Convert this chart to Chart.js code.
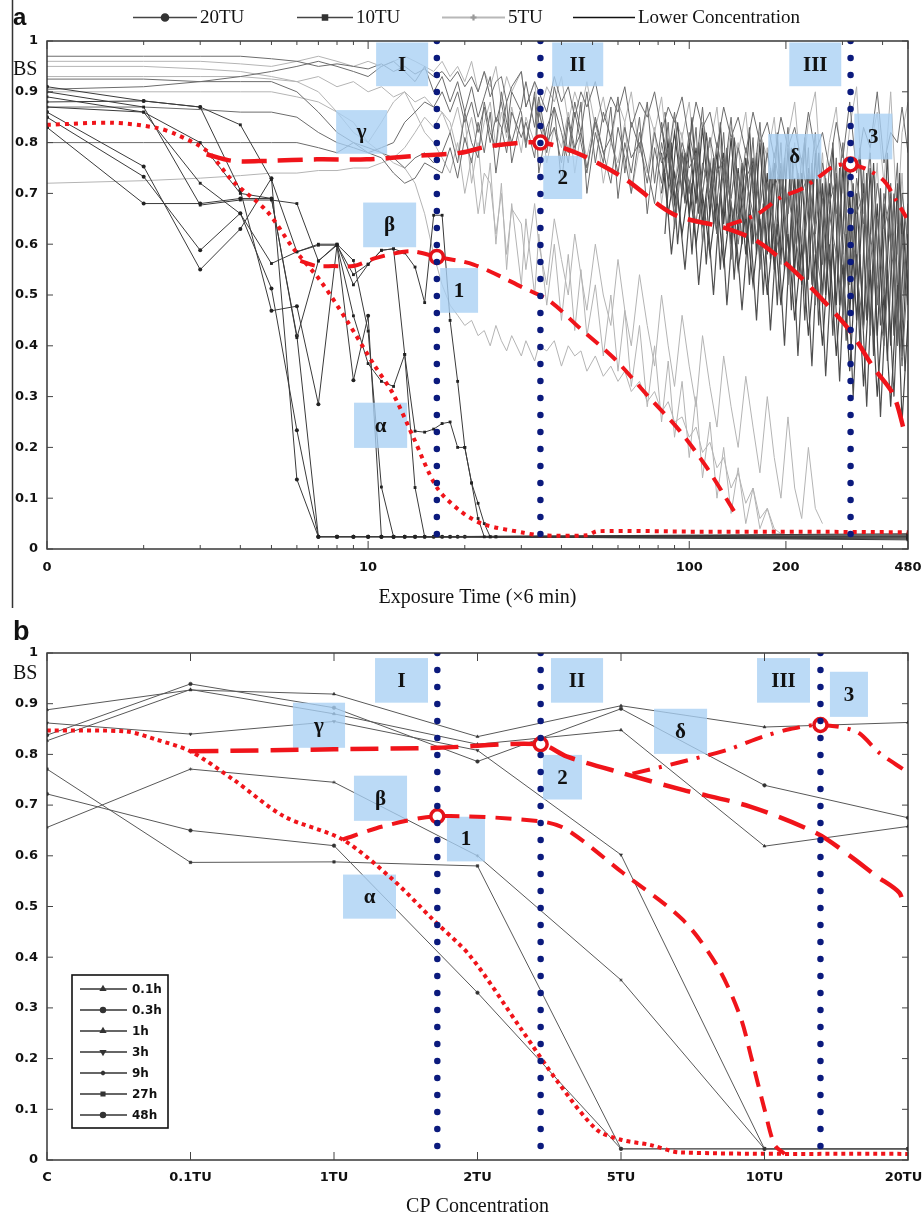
<!DOCTYPE html>
<html>
<head>
<meta charset="utf-8">
<script src="https://cdn.jsdelivr.net/npm/chart.js@4.4.0/dist/chart.umd.min.js"></script>
<style>
  body { margin: 0; background: #fff; }
  canvas { display: block; }
</style>
</head>
<body>
<canvas id="ca" width="924" height="608"></canvas>
<canvas id="cb" width="924" height="612"></canvas>
<script>
// ---------- panel a : BS vs exposure time (x6 min), log axis ----------
const timeTicks = [1, 2, 3, 4, 5, 6, 7, 8, 9, 10, 20, 30, 40, 50, 60, 70, 80, 90, 100, 200, 300, 400, 480];
const timeLabels = { 1: '0', 10: '10', 100: '100', 200: '200', 480: '480' };
const groupNames = ['20TU', '10TU', '5TU', 'Lower Concentration'];

// sampled at time 1, 2, 3 ...
const conc20 = [
  [0.83, 0.68, 0.68, 0.69, 0.69, 0.42, 0.024, 0.024, 0.024, 0.024, 0.024, 0.024, 0.024, 0.024, 0.024, 0.024, 0.024, 0.024, 0.024, 0.024],
  [0.86, 0.753, 0.55, 0.63, 0.73, 0.137, 0.024, 0.024, 0.024, 0.024, 0.024, 0.024],
  [0.85, 0.733, 0.588, 0.661, 0.513, 0.234, 0.024, 0.024, 0.024, 0.024],
  [0.91, 0.882, 0.87, 0.706, 0.469, 0.478, 0.285, 0.598, 0.332, 0.459, 0.024, 0.024, 0.024, 0.024]
];
const conc10 = [
  [0.88, 0.882, 0.87, 0.835, 0.727, 0.585, 0.598, 0.598, 0.54, 0.561, 0.588, 0.591, 0.583, 0.555, 0.485, 0.657, 0.657, 0.45, 0.33, 0.2, 0.13, 0.06, 0.024, 0.024, 0.024],
  [0.9, 0.87, 0.677, 0.687, 0.687, 0.68, 0.567, 0.598, 0.459, 0.365, 0.33, 0.32, 0.383, 0.232, 0.23, 0.236, 0.247, 0.25, 0.2, 0.2, 0.13, 0.09, 0.05, 0.024, 0.024],
  [0.87, 0.86, 0.72, 0.66, 0.562, 0.585, 0.6, 0.6, 0.568, 0.429, 0.122, 0.024, 0.024, 0.024, 0.024],
  [0.89, 0.86, 0.8, 0.7, 0.69, 0.416, 0.567, 0.6, 0.52, 0.56, 0.588, 0.591, 0.383, 0.121, 0.024, 0.024, 0.024, 0.024]
];
// value each curve keeps until t = 480
const tail20 = [0.024, 0.02, 0.028, 0.022];
const tail10 = [0.026, 0.018, 0.03, 0.024];

// time grid for the long noisy records
const gridT = [1, 2, 3, 4, 5, 6, 7, 8, 9, 10, 11, 12, 13, 14, 15, 16, 17, 18, 19, 20, 21, 22, 23, 24, 25, 26, 27, 28,
  30, 31, 33, 34, 36, 38, 40, 42, 44, 46, 48, 51, 54, 57, 60, 63, 66, 70, 74, 78, 82, 86, 90, 95,
  100, 105, 110, 116, 122, 128, 135, 142, 150, 158, 166, 175, 184, 193,
  203, 213, 224, 235, 247, 260, 273, 287, 301, 316, 332, 349, 366, 385, 404, 424, 445, 460, 480];
// interleaved grid for the late, dense records
const gridLate = [84, 88, 92, 97, 102, 107, 113, 119, 125, 131, 138, 146, 154, 162, 170, 179, 188, 198,
  208, 218, 229, 241, 253, 266, 280, 294, 308, 324, 340, 357, 375, 394, 414, 434, 452, 470];

const conc5 = [
  [0.96, 0.96, 0.96, 0.955, 0.95, 0.96, 0.97, 0.96, 0.95, 0.96, 0.95, 0.96, 0.97, 0.96, 0.95, 0.94, 0.96,
   0.93, 0.95, 0.92, 0.96, 0.9, 0.94, 0.91, 0.95, 0.88, 0.93, 0.9,
   0.94, 0.87, 0.92, 0.85, 0.91, 0.88, 0.93, 0.84, 0.9, 0.86, 0.92,
   0.83, 0.89, 0.8, 0.88, 0.84, 0.9, 0.78, 0.87, 0.82, 0.89, 0.76, 0.85, 0.81,
   0.88, 0.74, 0.84, 0.79, 0.87, 0.72, 0.83, 0.78, 0.86, 0.7, 0.82, 0.77, 0.85, 0.69,
   0.81, 0.88, 0.72, 0.84, 0.9, 0.68, 0.8, 0.87, 0.7, 0.83, 0.91, 0.66, 0.79, 0.86, 0.72, 0.9, 0.64, 0.82, 0.88],
  [0.9, 0.9, 0.9, 0.9, 0.9, 0.89, 0.88, 0.86, 0.84, 0.8, 0.78, 0.76, 0.75, 0.72, 0.66, 0.58, 0.52,
   0.48, 0.46, 0.44, 0.45, 0.42, 0.43, 0.4, 0.44, 0.41, 0.39, 0.42,
   0.38, 0.41, 0.37, 0.4, 0.39, 0.41, 0.36, 0.4, 0.38, 0.39, 0.35,
   0.38, 0.34, 0.36, 0.33, 0.35, 0.31, 0.33, 0.29, 0.31, 0.27, 0.29, 0.25, 0.26,
   0.22, 0.24, 0.19, 0.21, 0.16, 0.18, 0.12, 0.15, 0.09, 0.12, 0.06, 0.08, 0.04, 0.03],
  [0.95, 0.95, 0.945, 0.94, 0.93, 0.92, 0.93, 0.91, 0.92, 0.9, 0.91, 0.89, 0.9, 0.88, 0.89, 0.87, 0.86,
   0.84, 0.78, 0.85, 0.72, 0.8, 0.66, 0.76, 0.6, 0.72, 0.55, 0.68,
   0.52, 0.65, 0.5, 0.62, 0.48, 0.6, 0.45, 0.58, 0.43, 0.55, 0.42,
   0.52, 0.38, 0.5, 0.35, 0.47, 0.32, 0.44, 0.28, 0.4, 0.25, 0.37, 0.22, 0.33,
   0.18, 0.3, 0.14, 0.25, 0.1, 0.2, 0.07, 0.16, 0.05, 0.12, 0.04, 0.08, 0.03, 0.03],
  [0.93, 0.93, 0.93, 0.93, 0.925, 0.92, 0.9, 0.86, 0.82, 0.8, 0.84, 0.88, 0.9, 0.86, 0.82, 0.8, 0.77,
   0.74, 0.8, 0.7, 0.77, 0.66, 0.74, 0.72, 0.62, 0.7, 0.58, 0.67,
   0.64, 0.55, 0.68, 0.6, 0.52, 0.65, 0.57, 0.5, 0.62, 0.54, 0.47,
   0.6, 0.5, 0.44, 0.57, 0.47, 0.4, 0.54, 0.44, 0.36, 0.5, 0.4, 0.32, 0.46,
   0.36, 0.28, 0.42, 0.32, 0.24, 0.38, 0.28, 0.2, 0.34, 0.24, 0.15, 0.3, 0.18, 0.1,
   0.26, 0.12, 0.06, 0.2, 0.08, 0.05],
  [0.72, 0.725, 0.73, 0.735, 0.74, 0.74, 0.745, 0.745, 0.75, 0.75, 0.76, 0.77, 0.79, 0.82, 0.85, 0.83, 0.86,
   0.82, 0.87, 0.8, 0.85, 0.78, 0.84, 0.88, 0.79, 0.86, 0.81, 0.87,
   0.78, 0.85, 0.8, 0.88, 0.76, 0.83, 0.79, 0.86, 0.74, 0.82, 0.77,
   0.85, 0.72, 0.8, 0.76, 0.84, 0.7, 0.79, 0.74, 0.83, 0.68, 0.78, 0.72, 0.82,
   0.66, 0.77, 0.7, 0.81, 0.64, 0.76, 0.69, 0.8, 0.62, 0.75, 0.67, 0.79, 0.6, 0.74,
   0.66, 0.8, 0.58, 0.73, 0.64, 0.78, 0.56, 0.72, 0.62, 0.77, 0.54, 0.7, 0.6, 0.76, 0.5, 0.68, 0.58, 0.74, 0.48]
];

const lowerConc = [
  [0.97, 0.97, 0.97, 0.97, 0.965, 0.96, 0.95, 0.955, 0.95, 0.945, 0.955, 0.94, 0.95, 0.935, 0.945, 0.93, 0.94,
   0.92, 0.94, 0.91, 0.93, 0.9, 0.94, 0.89, 0.92, 0.93, 0.88, 0.91,
   0.94, 0.87, 0.92, 0.9, 0.86, 0.93, 0.88, 0.91, 0.85, 0.9, 0.87,
   0.92, 0.84, 0.89, 0.86, 0.91, 0.83, 0.88, 0.85, 0.9, 0.82, 0.87, 0.84, 0.89,
   0.8, 0.88, 0.83, 0.86, 0.79, 0.87, 0.81, 0.85, 0.78, 0.86, 0.8, 0.84, 0.77, 0.85,
   0.79, 0.83, 0.76, 0.86, 0.78, 0.82, 0.75, 0.84, 0.77, 0.88, 0.74, 0.83, 0.79, 0.9, 0.76, 0.82, 0.8, 0.87, 0.78],
  [0.925, 0.925, 0.92, 0.92, 0.92, 0.9, 0.86, 0.82, 0.8, 0.78, 0.79, 0.8, 0.84, 0.86, 0.88, 0.87, 0.9,
   0.86, 0.9, 0.84, 0.88, 0.82, 0.87, 0.8, 0.85, 0.83, 0.78, 0.86,
   0.81, 0.84, 0.77, 0.86, 0.8, 0.83, 0.76, 0.85, 0.79, 0.82, 0.75,
   0.84, 0.78, 0.81, 0.74, 0.83, 0.77, 0.8, 0.72, 0.82, 0.76, 0.79, 0.71, 0.8,
   0.75, 0.78, 0.7, 0.81, 0.74, 0.77, 0.69, 0.79, 0.73, 0.76, 0.67, 0.78, 0.71, 0.75,
   0.66, 0.77, 0.7, 0.74, 0.62, 0.76, 0.68, 0.73, 0.58, 0.75, 0.66, 0.7, 0.55, 0.72, 0.63, 0.69, 0.52, 0.7, 0.6],
  [0.87, 0.87, 0.865, 0.86, 0.86, 0.85, 0.82, 0.8, 0.79, 0.78, 0.77, 0.74, 0.72, 0.73, 0.76, 0.75, 0.74,
   0.79, 0.73, 0.81, 0.76, 0.84, 0.78, 0.86, 0.74, 0.82, 0.88, 0.76,
   0.85, 0.79, 0.9, 0.74, 0.83, 0.87, 0.72, 0.84, 0.78, 0.88, 0.7,
   0.82, 0.76, 0.87, 0.69, 0.8, 0.74, 0.85, 0.66, 0.79, 0.72, 0.84, 0.63, 0.77,
   0.7, 0.83, 0.6, 0.76, 0.68, 0.82, 0.57, 0.74, 0.65, 0.81, 0.55, 0.72, 0.62, 0.8,
   0.52, 0.71, 0.6, 0.79, 0.48, 0.69, 0.57, 0.77, 0.45, 0.67, 0.55, 0.75, 0.42, 0.65, 0.5, 0.72, 0.4, 0.62, 0.48],
  [0.8, 0.8, 0.8, 0.8, 0.8, 0.8, 0.79, 0.78, 0.8, 0.79, 0.78, 0.77, 0.75, 0.77, 0.78, 0.76, 0.78,
   0.82, 0.76, 0.86, 0.8, 0.77, 0.88, 0.82, 0.79, 0.9, 0.84, 0.8,
   0.87, 0.92, 0.83, 0.89, 0.8, 0.91, 0.85, 0.78, 0.88, 0.82, 0.9,
   0.76, 0.86, 0.81, 0.89, 0.74, 0.84, 0.79, 0.88, 0.72, 0.83, 0.77, 0.86, 0.7,
   0.82, 0.75, 0.87, 0.68, 0.8, 0.73, 0.85, 0.66, 0.79, 0.71, 0.84, 0.64, 0.78, 0.7,
   0.83, 0.6, 0.77, 0.68, 0.82, 0.56, 0.75, 0.66, 0.8, 0.52, 0.73, 0.64, 0.78, 0.48, 0.7, 0.6, 0.76, 0.45, 0.68],
  [0.905, 0.91, 0.92, 0.93, 0.94, 0.95, 0.96, 0.95, 0.94, 0.93, 0.95, 0.96, 0.94, 0.92, 0.95, 0.9, 0.93,
   0.88, 0.92, 0.86, 0.91, 0.85, 0.89, 0.93, 0.84, 0.88, 0.82, 0.9,
   0.86, 0.8, 0.89, 0.84, 0.78, 0.87, 0.82, 0.76, 0.86, 0.8, 0.74,
   0.85, 0.78, 0.72, 0.83, 0.77, 0.7, 0.82, 0.75, 0.68, 0.8, 0.73, 0.66, 0.78,
   0.72, 0.64, 0.76, 0.7, 0.62, 0.75, 0.68, 0.6, 0.73, 0.66, 0.58, 0.72, 0.64, 0.56,
   0.7, 0.62, 0.54, 0.68, 0.6, 0.5, 0.66, 0.58, 0.47, 0.64, 0.55, 0.43, 0.62, 0.52, 0.4, 0.6, 0.48, 0.36, 0.55]
];
// records that only start at gridT[48] (t = 82)
const lateStart = 48;
const lowerLate = [
  [0.78, 0.66, 0.74, 0.62, 0.72, 0.6, 0.7, 0.58, 0.69, 0.56, 0.68, 0.55, 0.66, 0.52, 0.65, 0.5, 0.64, 0.48,
   0.62, 0.45, 0.6, 0.42, 0.58, 0.4, 0.6, 0.38, 0.56, 0.35, 0.58, 0.32, 0.55, 0.3, 0.5, 0.28, 0.52, 0.25, 0.45],
  [0.7, 0.8, 0.68, 0.78, 0.66, 0.79, 0.64, 0.76, 0.62, 0.78, 0.6, 0.75, 0.58, 0.77, 0.57, 0.74, 0.55, 0.76,
   0.54, 0.73, 0.52, 0.75, 0.5, 0.72, 0.48, 0.74, 0.46, 0.7, 0.45, 0.72, 0.44, 0.68, 0.42, 0.7, 0.4, 0.66, 0.5],
  [0.84, 0.72, 0.82, 0.7, 0.8, 0.68, 0.83, 0.66, 0.78, 0.64, 0.81, 0.62, 0.77, 0.6, 0.8, 0.58, 0.76, 0.57,
   0.79, 0.55, 0.74, 0.53, 0.78, 0.5, 0.72, 0.48, 0.76, 0.46, 0.7, 0.44, 0.75, 0.42, 0.68, 0.4, 0.72, 0.38, 0.62]
];
// read on gridLate
const lowerDense = [
  [0.74, 0.58, 0.7, 0.55, 0.72, 0.52, 0.69, 0.5, 0.7, 0.48, 0.67, 0.47, 0.66, 0.45, 0.68, 0.43, 0.64, 0.4,
   0.66, 0.38, 0.63, 0.36, 0.65, 0.34, 0.6, 0.33, 0.62, 0.3, 0.58, 0.28, 0.6, 0.26, 0.55, 0.3, 0.57, 0.35],
  [0.62, 0.8, 0.6, 0.78, 0.58, 0.8, 0.56, 0.77, 0.55, 0.79, 0.53, 0.76, 0.52, 0.78, 0.5, 0.75, 0.48, 0.77,
   0.47, 0.74, 0.45, 0.76, 0.44, 0.73, 0.42, 0.75, 0.41, 0.72, 0.4, 0.74, 0.38, 0.71, 0.37, 0.7, 0.4, 0.66],
  [0.86, 0.7, 0.84, 0.68, 0.85, 0.66, 0.82, 0.64, 0.84, 0.62, 0.81, 0.6, 0.83, 0.58, 0.8, 0.57, 0.82, 0.55,
   0.79, 0.54, 0.81, 0.52, 0.78, 0.5, 0.8, 0.48, 0.77, 0.47, 0.79, 0.45, 0.76, 0.44, 0.78, 0.42, 0.74, 0.5]
];

// trend curves and turning points
const alphaT = [1, 1.606, 2.196, 2.53, 3.14, 3.79, 4.84, 5.83, 7.1, 8.6, 10.4, 11.97, 13.85, 16.37, 19.35, 22.8, 30.5, 34.4, 48.1, 51.7, 108, 220, 480];
const alphaBS = [0.835, 0.839, 0.829, 0.816, 0.784, 0.724, 0.665, 0.593, 0.528, 0.449, 0.364, 0.305, 0.219, 0.121, 0.075, 0.049, 0.032, 0.027, 0.027, 0.035, 0.034, 0.034, 0.033];
const betaT = [6.15, 6.92, 7.8, 9.0, 10.6, 13.5, 16.37, 21.3, 30.5, 36.8, 45.6, 58.2, 73.7, 93.6, 113.5, 140.8];
const betaBS = [0.567, 0.557, 0.557, 0.557, 0.573, 0.586, 0.575, 0.56, 0.514, 0.488, 0.435, 0.376, 0.304, 0.232, 0.16, 0.065];
const gammaT = [3.14, 3.79, 4.84, 6.92, 9.9, 14.2, 19.4, 23.9, 34.4, 45.6, 62.3, 89.3, 127.6, 162.6, 206.8, 262.4, 317, 375, 432, 470];
const gammaBS = [0.777, 0.764, 0.764, 0.767, 0.767, 0.774, 0.78, 0.793, 0.8, 0.777, 0.731, 0.659, 0.633, 0.606, 0.554, 0.488, 0.429, 0.357, 0.304, 0.226];
const deltaT = [130.7, 162.6, 192.6, 222.6, 251.6, 283.6, 318, 358.5, 405, 442, 475];
const deltaBS = [0.636, 0.659, 0.692, 0.708, 0.731, 0.754, 0.757, 0.747, 0.724, 0.685, 0.652];
const stageT = [16.37, 34.4, 318];
const stageBS = [0.575, 0.8, 0.757];

// ---------- panel b : BS vs CP concentration ----------
const concLabels = ['C', '0.1TU', '1TU', '2TU', '5TU', '10TU', '20TU'];
const concPos = [0, 1, 2, 3, 4, 5, 6];
const hours = ['0.1h', '0.3h', '1h', '3h', '9h', '27h', '48h'];
const bsByHour = [
  [0.888, 0.927, 0.919, 0.835, 0.896, 0.854, 0.863],
  [0.838, 0.939, 0.892, 0.786, 0.89, 0.739, 0.675],
  [0.827, 0.928, 0.88, 0.82, 0.848, 0.619, 0.658],
  [0.862, 0.84, 0.865, 0.808, 0.602, 0.022, 0.022],
  [0.656, 0.771, 0.745, 0.6, 0.355, 0.022, 0.022],
  [0.771, 0.587, 0.588, 0.58, 0.022, 0.022, 0.022],
  [0.722, 0.65, 0.62, 0.33, 0.022, 0.022, 0.022]
];
const hourMarks = ['triangle', 'circle', 'triangle', 'triangle', 'star', 'rect', 'circle'];

const alphaC = [0, 0.555, 0.764, 1.0, 1.3, 1.65, 2.06, 2.41, 2.69, 2.95, 3.3, 3.57, 3.83, 4.0, 4.2, 4.41, 6];
const alphaCBS = [0.847, 0.845, 0.829, 0.806, 0.75, 0.678, 0.632, 0.553, 0.474, 0.402, 0.26, 0.15, 0.06, 0.04, 0.03, 0.015, 0.012];
const betaC = [2.06, 2.34, 2.72, 3.44, 3.62, 4.01, 4.43, 4.67, 4.83, 4.91, 5.0, 5.07, 5.14];
const betaCBS = [0.632, 0.658, 0.678, 0.668, 0.652, 0.567, 0.474, 0.383, 0.284, 0.2, 0.1, 0.03, 0.012];
const gammaC = [1.0, 2.0, 2.72, 3.44, 3.62, 4.01, 4.43, 4.9, 5.36, 5.6, 5.78, 5.94, 5.97];
const gammaCBS = [0.806, 0.81, 0.813, 0.82, 0.796, 0.763, 0.73, 0.697, 0.645, 0.599, 0.56, 0.527, 0.498];
const deltaC = [4.08, 4.39, 4.74, 4.99, 5.18, 5.38, 5.64, 5.8, 5.97];
const deltaCBS = [0.762, 0.783, 0.809, 0.835, 0.85, 0.858, 0.845, 0.803, 0.77];
const stageC = [2.72, 3.44, 5.39];
const stageCBS = [0.678, 0.82, 0.858];

// ---------- helpers ----------
const RED = '#f0141a', NAVY = '#0b1a7d', BOXFILL = 'rgba(168,207,244,0.78)';
const pts = (xs, ys) => xs.map((x, i) => ({ x: x, y: ys[i] }));
const onGrid = (vals, off) => vals.map((v, i) => ({ x: gridT[off + i], y: v }));
const byTime = (vals, tail) => vals.map((v, i) => ({ x: i + 1, y: v })).concat([{ x: 480, y: tail }]);

function redLine(data, dash, w) {
  return { data: data, borderColor: RED, borderWidth: w || 4, borderDash: dash, pointRadius: 0,
           tension: 0.3, order: 3, overlay: true };
}
function stageLines(xs, bottom) {
  return xs.map(x => ({ data: [{ x: x, y: 1 }, { x: x, y: bottom }], borderColor: NAVY, borderWidth: 6.5,
    borderDash: [0, 17], borderCapStyle: 'round', pointRadius: 0, order: 1, overlay: true }));
}
function stageRings(xs, ys) {
  return { data: pts(xs, ys), showLine: false, pointRadius: 6.5, pointBorderWidth: 3.5,
           pointBorderColor: '#e3121a', pointBackgroundColor: '#fff', order: 2, overlay: true };
}

const decoCfg = {};
const deco = {
  id: 'deco',
  beforeDatasetsDraw(chart) { chart.$boxDone = false; },
  beforeDatasetDraw(chart, args) {
    const cfg = decoCfg[chart.canvas.id];
    if (chart.$boxDone || !chart.data.datasets[args.index].overlay) return;
    chart.$boxDone = true;
    const { ctx, scales: { x, y } } = chart;
    ctx.save();
    ctx.fillStyle = BOXFILL;
    cfg.boxes.forEach(b => {
      const x0 = x.getPixelForValue(b.x[0]), x1 = x.getPixelForValue(b.x[1]);
      const y0 = y.getPixelForValue(b.y[0]), y1 = y.getPixelForValue(b.y[1]);
      ctx.fillRect(x0, y1, x1 - x0, y0 - y1);
    });
    ctx.restore();
  },
  afterDatasetsDraw(chart) {
    const cfg = decoCfg[chart.canvas.id];
    const { ctx, scales: { x, y } } = chart;
    ctx.save();
    ctx.fillStyle = '#111';
    ctx.font = 'bold 21px "Liberation Serif"';
    ctx.textAlign = 'center';
    ctx.textBaseline = 'middle';
    cfg.boxes.forEach(b => {
      const cx = (x.getPixelForValue(b.x[0]) + x.getPixelForValue(b.x[1])) / 2;
      const cy = (y.getPixelForValue(b.y[0]) + y.getPixelForValue(b.y[1])) / 2;
      ctx.fillText(b.t, cx, cy + 1);
    });
    ctx.restore();
  },
  afterDraw(chart) {
    const cfg = decoCfg[chart.canvas.id];
    const { ctx, chartArea: a, scales: { x, y } } = chart;
    ctx.save();
    // frame with inward ticks on all four sides
    ctx.strokeStyle = '#2a2a2a';
    ctx.lineWidth = 1.4;
    ctx.strokeRect(a.left, a.top, a.right - a.left, a.bottom - a.top);
    ctx.lineWidth = 1;
    ctx.strokeStyle = '#444';
    ctx.beginPath();
    x.ticks.forEach(tk => {
      const px = x.getPixelForValue(tk.value);
      const len = cfg.xTickLen(tk.value);
      ctx.moveTo(px, a.bottom); ctx.lineTo(px, a.bottom - len);
      ctx.moveTo(px, a.top); ctx.lineTo(px, a.top + len);
    });
    y.ticks.forEach(tk => {
      const py = y.getPixelForValue(tk.value);
      ctx.moveTo(a.left, py); ctx.lineTo(a.left + 6, py);
      ctx.moveTo(a.right, py); ctx.lineTo(a.right - 6, py);
    });
    ctx.stroke();
    // panel letter and y title
    ctx.fillStyle = '#111';
    ctx.textAlign = 'left';
    ctx.textBaseline = 'alphabetic';
    ctx.font = cfg.letterFont;
    ctx.fillText(cfg.letter, 13, cfg.letterY);
    ctx.font = '20px "Liberation Serif"';
    ctx.fillText('BS', 13, cfg.bsY);
    if (cfg.sideRule) {
      ctx.strokeStyle = '#333'; ctx.lineWidth = 1.5;
      ctx.beginPath(); ctx.moveTo(12.5, 0); ctx.lineTo(12.5, chart.height); ctx.stroke();
    }
    cfg.legend(ctx, a);
    ctx.restore();
  }
};

function mark(ctx, style, px, py, r, color, rot) {
  ctx.fillStyle = color; ctx.strokeStyle = color;
  Chart.helpers.drawPoint(ctx, { pointStyle: style, radius: r, rotation: rot || 0, borderWidth: 1 }, px, py);
}

const yAxis = {
  min: 0, max: 1,
  grid: { display: false, drawTicks: false }, border: { display: false },
  ticks: { stepSize: 0.1, padding: 9, color: '#111', font: { family: 'DejaVu Sans', weight: 'bold', size: 13 },
           callback: v => String(+v.toFixed(1)) },
  afterFit: s => { s.width = 47; }
};

// ---------- chart a ----------
const dsA = [];
conc5.forEach(v => dsA.push({ label: groupNames[2], data: onGrid(v, 0), borderColor: '#b4b4b4', borderWidth: 1, pointRadius: 0, order: 12 }));
lowerConc.forEach(v => dsA.push({ label: groupNames[3], data: onGrid(v, 0), borderColor: '#6c6c6c', borderWidth: 1, pointRadius: 0, order: 11 }));
lowerLate.forEach(v => dsA.push({ label: groupNames[3], data: onGrid(v, lateStart), borderColor: '#454545', borderWidth: 1.2, pointRadius: 0, order: 11 }));
lowerDense.forEach(v => dsA.push({ label: groupNames[3], data: pts(gridLate, v), borderColor: '#505050', borderWidth: 1.2, pointRadius: 0, order: 11 }));
conc10.forEach((v, i) => dsA.push({ label: groupNames[1], data: byTime(v, tail10[i]), borderColor: '#3a3a3a', borderWidth: 1,
  pointStyle: 'rect', pointRadius: 2, pointBackgroundColor: '#222', pointBorderWidth: 0, order: 10 }));
conc20.forEach((v, i) => dsA.push({ label: groupNames[0], data: byTime(v, tail20[i]), borderColor: '#3a3a3a', borderWidth: 1,
  pointStyle: 'circle', pointRadius: 2, pointBackgroundColor: '#222', pointBorderWidth: 0, order: 10 }));
dsA.push(redLine(pts(alphaT, alphaBS), [4, 5], 4));
dsA.push(redLine(pts(betaT, betaBS), [15, 9], 4));
dsA.push(redLine(pts(gammaT, gammaBS), [25, 11], 4.5));
dsA.push(redLine(pts(deltaT, deltaBS), [16, 8, 3, 8], 4));
dsA.push(stageRings(stageT, stageBS));
stageLines(stageT, 0.015).forEach(d => dsA.push(d));

decoCfg.ca = {
  boxes: [
    { t: 'I', x: [10.59, 15.38], y: [0.911, 0.997] },
    { t: 'II', x: [37.43, 53.97], y: [0.911, 0.997] },
    { t: 'III', x: [204.9, 297.4], y: [0.911, 0.997] },
    { t: 'γ', x: [7.95, 11.46], y: [0.778, 0.864] },
    { t: 'δ', x: [176.2, 257.8], y: [0.728, 0.817] },
    { t: '3', x: [326.6, 429], y: [0.767, 0.857] },
    { t: '2', x: [35.1, 46.4], y: [0.689, 0.774] },
    { t: 'β', x: [9.65, 14.11], y: [0.594, 0.682] },
    { t: '1', x: [16.76, 22.0], y: [0.465, 0.553] },
    { t: 'α', x: [9.04, 13.23], y: [0.199, 0.288] }
  ],
  xTickLen: v => (timeLabels[v] !== undefined ? 8 : 4),
  letter: 'a', letterFont: 'bold 24px "Liberation Sans"', letterY: 25, bsY: 75, sideRule: true,
  legend: (ctx) => {
    const items = [
      { x0: 133, x1: 197, c: '#444', w: 1.6, m: 'circle', r: 3.5 },
      { x0: 297, x1: 353, c: '#444', w: 1.6, m: 'rect', r: 3.5 },
      { x0: 442, x1: 505, c: '#b8b8b8', w: 2.2, m: 'cross', r: 3 },
      { x0: 573, x1: 635, c: '#111', w: 1.6, m: null }
    ];
    const yy = 17.5;
    items.forEach((it, i) => {
      ctx.strokeStyle = it.c; ctx.lineWidth = it.w;
      ctx.beginPath(); ctx.moveTo(it.x0, yy); ctx.lineTo(it.x1, yy); ctx.stroke();
      if (it.m) mark(ctx, it.m, (it.x0 + it.x1) / 2, yy, it.r, it.c === '#b8b8b8' ? '#999' : '#333');
      ctx.fillStyle = '#111';
      ctx.font = '19px "Liberation Serif"';
      ctx.textAlign = 'left'; ctx.textBaseline = 'middle';
      ctx.fillText(groupNames[i], it.x1 + 3, yy + 1);
    });
  }
};

new Chart(document.getElementById('ca'), {
  type: 'line',
  data: { datasets: dsA },
  plugins: [deco],
  options: {
    responsive: false, animation: false, events: [],
    layout: { padding: { top: 41, right: 16, left: 0, bottom: 0 } },
    plugins: { legend: { display: false }, tooltip: { enabled: false } },
    elements: { line: { tension: 0 } },
    scales: {
      x: {
        type: 'logarithmic', min: 1, max: 480,
        grid: { display: false, drawTicks: false }, border: { display: false },
        afterBuildTicks: s => { s.ticks = timeTicks.map(v => ({ value: v })); },
        ticks: { autoSkip: false, maxRotation: 0, minRotation: 0, padding: 11, color: '#111',
                 font: { family: 'DejaVu Sans', weight: 'bold', size: 13 },
                 callback: v => (timeLabels[v] !== undefined ? timeLabels[v] : '') },
        title: { display: true, text: 'Exposure Time (×6 min)', color: '#111',
                 font: { family: 'Liberation Serif', size: 20, lineHeight: 1 }, padding: { top: 0, bottom: 0 } },
        afterFit: s => { s.height = 59; s.paddingLeft = 0; s.paddingRight = 0; }
      },
      y: yAxis
    }
  }
});

// ---------- chart b ----------
const dsB = [];
bsByHour.forEach((v, k) => dsB.push({ label: hours[k], data: pts(concPos, v), borderColor: '#585858', borderWidth: 1,
  pointStyle: hourMarks[k], pointRadius: 1.8, pointBackgroundColor: '#333', pointBorderColor: '#333', pointBorderWidth: 0.5,
  pointRotation: k === 3 ? 180 : 0, order: 10 }));
dsB.push(redLine(pts(alphaC, alphaCBS), [4, 4], 4));
dsB.push(redLine(pts(betaC, betaCBS), [16, 10], 4));
dsB.push(redLine(pts(gammaC, gammaCBS), [28, 12], 4.5));
dsB.push(redLine(pts(deltaC, deltaCBS), [18, 9, 3, 9], 4));
dsB.push(stageRings(stageC, stageCBS));
stageLines(stageC, 0.02).forEach(d => dsB.push(d));

decoCfg.cb = {
  boxes: [
    { t: 'I', x: [2.286, 2.655], y: [0.902, 0.99] },
    { t: 'II', x: [3.512, 3.875], y: [0.902, 0.99] },
    { t: 'III', x: [4.948, 5.317], y: [0.902, 0.99] },
    { t: '3', x: [5.456, 5.721], y: [0.874, 0.963] },
    { t: 'γ', x: [1.714, 2.077], y: [0.813, 0.902] },
    { t: 'δ', x: [4.23, 4.6], y: [0.801, 0.89] },
    { t: '2', x: [3.456, 3.728], y: [0.711, 0.799] },
    { t: 'β', x: [2.139, 2.509], y: [0.669, 0.758] },
    { t: '1', x: [2.787, 3.052], y: [0.589, 0.677] },
    { t: 'α', x: [2.063, 2.432], y: [0.476, 0.563] }
  ],
  xTickLen: () => 8,
  letter: 'b', letterFont: 'bold 27px "Liberation Sans"', letterY: 32, bsY: 71, sideRule: false,
  legend: (ctx, a) => {
    const bx = a.left + 25, by = a.bottom - 185, bw = 96, bh = 153;
    ctx.fillStyle = '#fff';
    ctx.fillRect(bx, by, bw, bh);
    ctx.strokeStyle = '#111'; ctx.lineWidth = 1.6;
    ctx.strokeRect(bx, by, bw, bh);
    hours.forEach((h, k) => {
      const yy = by + 14 + k * 21;
      ctx.strokeStyle = '#666'; ctx.lineWidth = 2;
      ctx.beginPath(); ctx.moveTo(bx + 8, yy); ctx.lineTo(bx + 55, yy); ctx.stroke();
      mark(ctx, hourMarks[k], bx + 31, yy, 2.2, '#333', k === 3 ? 180 : 0);
      ctx.fillStyle = '#111';
      ctx.font = 'bold 12px "DejaVu Sans"';
      ctx.textAlign = 'left'; ctx.textBaseline = 'middle';
      ctx.fillText(h, bx + 60, yy + 1);
    });
  }
};

new Chart(document.getElementById('cb'), {
  type: 'line',
  data: { datasets: dsB },
  plugins: [deco],
  options: {
    responsive: false, animation: false, events: [],
    layout: { padding: { top: 45, right: 16, left: 0, bottom: 0 } },
    plugins: { legend: { display: false }, tooltip: { enabled: false } },
    elements: { line: { tension: 0 } },
    scales: {
      x: {
        type: 'linear', min: 0, max: 6,
        grid: { display: false, drawTicks: false }, border: { display: false },
        afterBuildTicks: s => { s.ticks = concPos.map(v => ({ value: v })); },
        ticks: { autoSkip: false, maxRotation: 0, minRotation: 0, padding: 10, color: '#111',
                 font: { family: 'DejaVu Sans', weight: 'bold', size: 13 },
                 // the last label is nudged inward so it stays on the page
                 callback: v => (v === concPos[concPos.length - 1] ? concLabels[v] + '\u00a0\u00a0' : concLabels[v]) },
        title: { display: true, text: 'CP Concentration', color: '#111',
                 font: { family: 'Liberation Serif', size: 20, lineHeight: 1 }, padding: { top: 0, bottom: 3 } },
        afterFit: s => { s.height = 60; s.paddingLeft = 0; s.paddingRight = 0; }
      },
      y: yAxis
    }
  }
});
</script>
</body>
</html>
